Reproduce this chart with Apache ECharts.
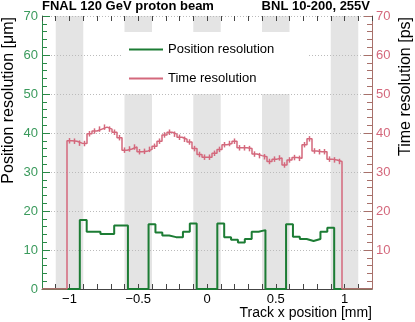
<!DOCTYPE html>
<html>
<head>
<meta charset="utf-8">
<script src="https://cdn.jsdelivr.net/npm/echarts@6/dist/echarts.min.js"></script>
<style>
html,body{margin:0;padding:0;background:#fff;}
#chart{width:415px;height:322px;}
</style>
</head>
<body>
<div id="chart"></div>
<script>
// time resolution histogram, 66 bins over [-1.2, 1.2]; only bins 5..59 are filled
const timeFirstEdge = -1.2 + 5 * 2.4 / 66;
const timeBinWidth = 2.4 / 66;
const timeRes = [
  38.0, 37.9, 37.4, 37.3, 39.8, 40.5, 41.0, 41.5, 41.0, 40.2,
  38.8, 35.6, 35.9, 36.4, 35.2, 35.3, 35.8, 36.6, 37.9, 39.5,
  40.2, 39.7, 38.9, 38.4, 37.7, 36.0, 34.5, 33.8, 33.8, 34.8,
  35.8, 37.0, 37.3, 37.9, 36.2, 36.2, 36.0, 34.6, 34.2, 33.9,
  32.7, 33.3, 33.6, 31.8, 33.1, 33.7, 33.5, 37.0, 38.5, 35.4,
  35.2, 35.2, 33.3, 33.1, 32.7
];
const timeErr = 0.7;

// position resolution histogram, 0.05 mm bins from -0.925 to 0.925
const posFirstEdge = -0.925;
const posBinWidth = 0.05;
const posRes = [
  17.7, 14.7, 14.7, 14.1, 14.1, 16.3, 16.3,
  0, 0, 0,
  16.6, 14.5, 13.7, 13.3, 13.3, 14.7, 16.8,
  0, 0, 0,
  16.8, 13.3, 12.6, 11.9, 12.8, 14.7, 15.1,
  0, 0, 0,
  16.6, 13.4, 12.8, 12.3, 12.8, 14.7, 15.7
];

// metal (grey) regions
const bandStart = [-1.1, -0.6, -0.1, 0.4, 0.9];
const bandEnd = [-0.9, -0.4, 0.1, 0.6, 1.1];

const xLabelValues = [-1, -0.5, 0, 0.5, 1];
const xMin = -1.2, xMax = 1.2;
const yMin = 0, yMax = 70;

const GREEN = '#1c7c34';
const RED = '#d4687c';
const FONT = 'Liberation Sans, Arial, sans-serif';

function histSteps(first, width, vals) {
  const d = [[xMin, 0]];
  vals.forEach((v, i) => d.push([first + i * width, v]));
  d.push([first + vals.length * width, 0]);
  d.push([xMax, 0]);
  return d;
}

const chart = echarts.init(document.getElementById('chart'));

const xAxisCommon = {
  type: 'value',
  min: xMin,
  max: xMax,
  interval: 0.1,
  z: 1,
  splitLine: {show: false},
  axisTick: {show: true, inside: true, length: 5, lineStyle: {color: '#444'}}
};

const yAxisCommon = {
  type: 'value',
  min: yMin,
  max: yMax,
  interval: 10,
  z: 1
};

const option = {
  animation: false,
  backgroundColor: '#fff',
  title: [
    {text: 'FNAL 120 GeV proton beam', left: 42, top: 0, padding: 0,
      textStyle: {fontSize: 13, fontWeight: 'bold', fontFamily: FONT, color: '#000'}},
    {text: 'BNL 10-200, 255V', right: 45, top: 0, padding: 0,
      textStyle: {fontSize: 13, fontWeight: 'bold', fontFamily: FONT, color: '#000'}}
  ],
  grid: {left: 42, right: 43, top: 16, bottom: 33},
  legend: {
    data: ['Position resolution', 'Time resolution'],
    orient: 'vertical',
    left: 121,
    top: 32,
    padding: [11, 34, 9, 8],
    itemGap: 16,
    itemWidth: 34,
    itemHeight: 2,
    icon: 'rect',
    backgroundColor: '#fff',
    textStyle: {fontSize: 13, fontFamily: FONT, color: '#000'}
  },
  xAxis: [
    Object.assign({}, xAxisCommon, {
      position: 'bottom',
      axisLine: {show: true, onZero: false, lineStyle: {color: '#444'}},
      axisLabel: {
        show: true, margin: 4, fontSize: 13, fontFamily: FONT, color: '#000',
        showMinLabel: false, showMaxLabel: false,
        formatter: function (v) {
          const r = Math.round(v * 10) / 10;
          const hit = xLabelValues.find(t => Math.abs(t - r) < 1e-6);
          if (hit === undefined) return '';
          return hit < 0 ? '\u2212' + (-hit) : String(hit);
        }
      }
    }),
    Object.assign({}, xAxisCommon, {
      position: 'top',
      axisLine: {show: false, onZero: false},
      axisLabel: {show: false}
    })
  ],
  yAxis: [
    Object.assign({}, yAxisCommon, {
      position: 'left',
      axisLine: {show: true, onZero: false, lineStyle: {color: '#2a8a48'}},
      axisTick: {show: true, inside: true, length: 8, lineStyle: {color: '#2a8a48'}},
      minorTick: {show: true, splitNumber: 5, length: 5, lineStyle: {color: '#2a8a48'}},
      axisLabel: {margin: 4, fontSize: 13, fontFamily: FONT, color: '#3a9a5c'},
      splitLine: {show: true, lineStyle: {color: '#bbbbbb', type: [1, 2], width: 1}}
    }),
    Object.assign({}, yAxisCommon, {
      position: 'right',
      axisLine: {show: true, onZero: false, lineStyle: {color: '#a8706a'}},
      axisTick: {show: true, inside: true, length: 8, lineStyle: {color: '#a8706a'}},
      minorTick: {show: true, splitNumber: 5, length: 5, lineStyle: {color: '#a8706a'}},
      axisLabel: {margin: 4, fontSize: 13, fontFamily: FONT, color: RED, showMinLabel: false},
      splitLine: {show: false}
    })
  ],
  graphic: [
    {type: 'text', x: 9, y: 17, rotation: Math.PI / 2,
      style: {text: 'Position resolution [\u03bcm]', fontSize: 16, fontFamily: FONT, fill: '#000',
        textAlign: 'right', textVerticalAlign: 'middle'}},
    {type: 'text', x: 406, y: 17, rotation: Math.PI / 2,
      style: {text: 'Time resolution [ps]', fontSize: 16, fontFamily: FONT, fill: '#000',
        textAlign: 'right', textVerticalAlign: 'middle'}},
    {type: 'text', x: 372, y: 313,
      style: {text: 'Track x position [mm]', fontSize: 14, fontFamily: FONT, fill: '#000',
        textAlign: 'right', textVerticalAlign: 'middle'}}
  ],
  series: [
    {
      type: 'custom',
      name: 'bands',
      z: 0,
      silent: true,
      encode: {x: [0, 1]},
      data: bandStart.map((s, i) => [s, bandEnd[i]]),
      renderItem: function (params, api) {
        const p0 = api.coord([api.value(0), yMax]);
        const p1 = api.coord([api.value(1), yMin]);
        return {
          type: 'rect',
          shape: {x: p0[0], y: p0[1], width: p1[0] - p0[0], height: p1[1] - p0[1]},
          style: {fill: '#e4e4e4'}
        };
      }
    },
    {
      type: 'line',
      name: 'Position resolution',
      color: GREEN,
      z: 3,
      step: 'end',
      showSymbol: false,
      lineStyle: {color: GREEN, width: 2},
      data: histSteps(posFirstEdge, posBinWidth, posRes)
    },
    {
      type: 'line',
      name: 'Time resolution',
      color: RED,
      z: 4,
      step: 'end',
      showSymbol: false,
      lineStyle: {color: RED, width: 1.5},
      data: histSteps(timeFirstEdge, timeBinWidth, timeRes)
    },
    {
      type: 'custom',
      name: 'time errors',
      z: 4,
      encode: {x: 0, y: 1},
      data: timeRes.map((v, i) => [timeFirstEdge + (i + 0.5) * timeBinWidth, v, timeErr]),
      renderItem: function (params, api) {
        const x = api.value(0), v = api.value(1), e = api.value(2);
        const a = api.coord([x, v - e]);
        const b = api.coord([x, v + e]);
        return {
          type: 'line',
          shape: {x1: a[0], y1: a[1], x2: b[0], y2: b[1]},
          style: {stroke: RED, lineWidth: 1.5}
        };
      }
    }
  ]
};

chart.setOption(option);
</script>
</body>
</html>
